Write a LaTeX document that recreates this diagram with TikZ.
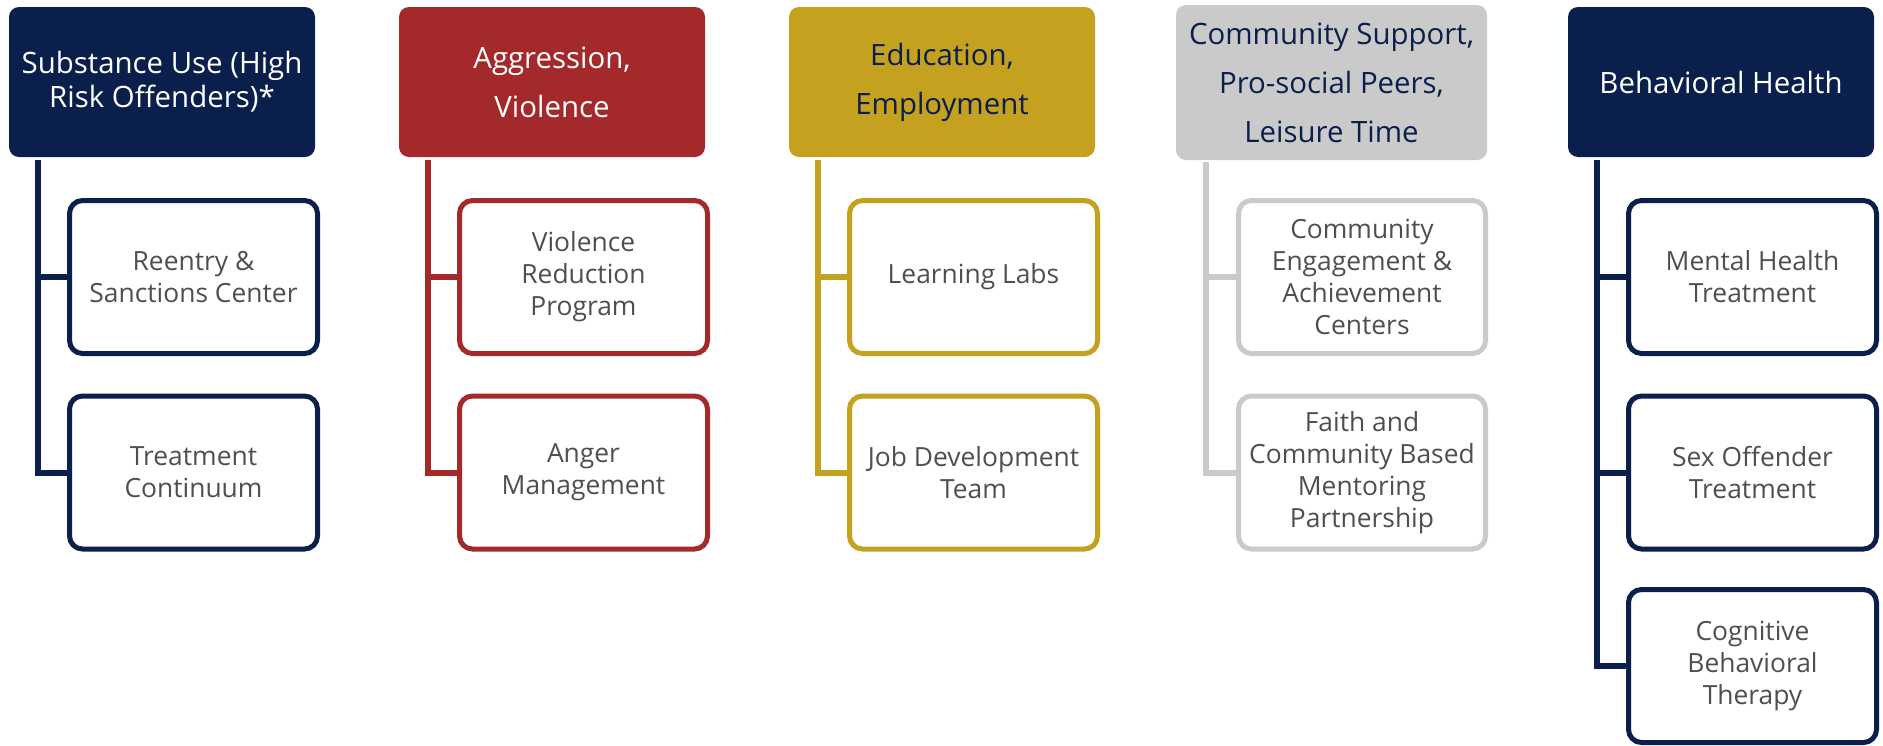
\documentclass[tikz,border=0pt]{standalone}
\usepackage{fontspec}
\setmainfont{Open Sans}
\usepackage{xcolor}
\usepackage{tikz}

\definecolor{navy}{HTML}{0A1F4B}
\definecolor{brick}{HTML}{A4292B}
\definecolor{gold}{HTML}{C4A11F}
\definecolor{silver}{HTML}{CBCACB}
\definecolor{ink}{HTML}{4F4F4F}

\begin{document}
\begin{tikzpicture}[x=0.5pt,y=-0.5pt]
            \tikzset{Head/.style={%
                    shape=rectangle,%
                    rounded corners=5pt,%
                    fill=#1,%
                    minimum width=153pt,%
                    minimum height=75pt,%
                    inner sep=0pt,%
                    align=center,%
                    font=\fontsize{14.7}{24.5}\selectfont,%
                },
                Item/.style={%
                    shape=rectangle,%
                    rounded corners=6.5pt,%
                    draw=#1,%
                    fill=white,%
                    line width=2.5pt,%
                    minimum width=124pt,%
                    minimum height=76.5pt,%
                    inner sep=0pt,%
                    align=center,%
                    text=ink,%
                    font=\fontsize{13.2}{16}\selectfont,%
                },
                Trunk/.style={%
                    -,%
                    draw=#1,%
                    line width=3pt,%
                    to path={|- (\tikztotarget)},%
                }}

                \useasboundingbox (0,0) rectangle (1883,745);

                \node[Head=navy,text=white,font=\fontsize{14.7}{17}\selectfont] (1) at (162,82) {Substance Use (High\\Risk Offenders)*};
                \node[Head=brick,text=white] (2) at (552,82) {Aggression,\\Violence};
                \node[Head=gold,text=navy] (3) at (942,82) {Education,\\Employment};
                \node[Head=silver,text=navy,minimum width=155.5pt,minimum height=77.5pt] (4) at (1331.5,82.5) {Community Support,\\Pro-social Peers,\\Leisure Time};
                \node[Head=navy,text=white] (5) at (1721,82) {Behavioral Health};

                \coordinate (t1) at (38,160);
                \coordinate (t2) at (428,160);
                \coordinate (t3) at (818,160);
                \coordinate (t4) at (1206,162);
                \coordinate (t5) at (1597,160);

                \node[Item=navy] (1a) at (193.5,277) {Reentry \&\\Sanctions Center};
                \node[Item=navy] (1b) at (193.5,472.5) {Treatment\\Continuum};
                \node[Item=brick] (2a) at (583.5,277) {Violence\\Reduction\\Program};
                \node[Item=brick] (2b) at (583.5,472.5) {Anger\\Management};
                \node[Item=gold] (3a) at (973.5,277) {Learning Labs};
                \node[Item=gold] (3b) at (973.5,472.5) {Job Development\\Team};
                \node[Item=silver,minimum width=123.5pt] (4a) at (1362,277) {Community\\Engagement \&\\Achievement\\Centers};
                \node[Item=silver,minimum width=123.5pt] (4b) at (1362,472.5) {Faith and\\Community Based\\Mentoring\\Partnership};
                \node[Item=navy] (5a) at (1752.5,277) {Mental Health\\Treatment};
                \node[Item=navy] (5b) at (1752.5,472.5) {Sex Offender\\Treatment};
                \node[Item=navy] (5c) at (1752.5,666) {Cognitive\\Behavioral\\Therapy};

                \path (t1) edge[Trunk=navy] (1a);
                \path (t1) edge[Trunk=navy] (1b);
                \path (t2) edge[Trunk=brick] (2a);
                \path (t2) edge[Trunk=brick] (2b);
                \path (t3) edge[Trunk=gold] (3a);
                \path (t3) edge[Trunk=gold] (3b);
                \path (t4) edge[Trunk=silver] (4a);
                \path (t4) edge[Trunk=silver] (4b);
                \path (t5) edge[Trunk=navy] (5a);
                \path (t5) edge[Trunk=navy] (5b);
                \path (t5) edge[Trunk=navy] (5c);
        \end{tikzpicture}
\end{document}
